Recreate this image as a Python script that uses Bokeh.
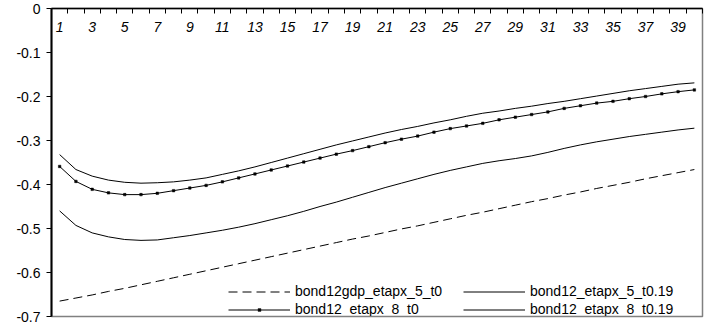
from bokeh.plotting import figure
from bokeh.models import FixedTicker, Legend, LegendItem
from bokeh.core.properties import value
from bokeh.embed import file_html
from bokeh.resources import INLINE

periods = list(range(1, 41))
x_tick_labels = [str(i) for i in range(1, 41, 2)]
y_ticks = [0, -0.1, -0.2, -0.3, -0.4, -0.5, -0.6, -0.7]
y_tick_labels = ["0", "-0.1", "-0.2", "-0.3", "-0.4", "-0.5", "-0.6", "-0.7"]

bond12gdp_etapx_5_t0 = [
    -0.665, -0.658, -0.651, -0.643, -0.636, -0.628, -0.620, -0.612, -0.604, -0.596,
    -0.588, -0.580, -0.572, -0.564, -0.556, -0.548, -0.540, -0.532, -0.524, -0.517,
    -0.509, -0.501, -0.494, -0.486, -0.478, -0.470, -0.463, -0.455, -0.447, -0.439,
    -0.432, -0.424, -0.417, -0.409, -0.402, -0.395, -0.387, -0.380, -0.373, -0.366]

bond12_etapx_5_t019 = [
    -0.332, -0.366, -0.381, -0.390, -0.395, -0.397, -0.396, -0.394, -0.390, -0.385,
    -0.377, -0.369, -0.360, -0.350, -0.340, -0.330, -0.320, -0.310, -0.301, -0.292,
    -0.283, -0.275, -0.268, -0.260, -0.253, -0.245, -0.238, -0.233, -0.227, -0.222,
    -0.216, -0.211, -0.205, -0.199, -0.193, -0.187, -0.182, -0.177, -0.172, -0.169]

bond12_etapx_8_t0 = [
    -0.359, -0.393, -0.411, -0.419, -0.423, -0.423, -0.420, -0.414, -0.408, -0.402,
    -0.394, -0.385, -0.376, -0.367, -0.358, -0.349, -0.340, -0.331, -0.323, -0.314,
    -0.305, -0.297, -0.290, -0.281, -0.273, -0.267, -0.261, -0.253, -0.247, -0.241,
    -0.235, -0.227, -0.221, -0.215, -0.211, -0.205, -0.200, -0.194, -0.189, -0.185]

bond12_etapx_8_t019 = [
    -0.460, -0.493, -0.510, -0.519, -0.525, -0.527, -0.526, -0.521, -0.516, -0.510,
    -0.504, -0.497, -0.489, -0.480, -0.471, -0.461, -0.450, -0.440, -0.429, -0.418,
    -0.407, -0.397, -0.387, -0.377, -0.368, -0.360, -0.352, -0.346, -0.341, -0.335,
    -0.327, -0.318, -0.310, -0.303, -0.297, -0.291, -0.286, -0.281, -0.276, -0.272]

FONT = "Liberation Sans"

p = figure(width=704, height=325, x_range=(0.5, 40.5), y_range=(-0.7, 0),
           x_axis_location="above", output_backend="svg", toolbar_location=None,
           min_border_left=51, min_border_right=2, min_border_top=8, min_border_bottom=9)
p.grid.visible = False
p.outline_line_color = "#808080"
p.outline_line_width = 1.5
p.background_fill_color = "white"
p.border_fill_color = "white"

# top axis: ticks only, pointing inward, at category boundaries
xa = p.xaxis[0]
xa.ticker = FixedTicker(ticks=[i + 0.5 for i in range(0, 41)])
xa.major_tick_in = 5
xa.major_tick_out = 0
xa.minor_tick_line_color = None
xa.major_label_text_color = None
xa.major_label_standoff = 0
xa.axis_line_color = "black"
xa.axis_line_width = 1.5
xa.major_tick_line_color = "black"

ya = p.yaxis[0]
ya.ticker = FixedTicker(ticks=y_ticks)
ya.major_label_overrides = dict(zip(y_ticks, y_tick_labels))
ya.major_tick_in = 0
ya.major_tick_out = 5
ya.minor_tick_line_color = None
ya.major_label_text_font = FONT
ya.major_label_text_font_size = "14px"
ya.major_label_text_color = "black"
ya.major_label_standoff = 6
ya.axis_line_color = "black"
ya.axis_line_width = 2

# x tick labels drawn inside the frame, below the top axis
label_x = [int(s) for s in x_tick_labels]
p.text(x=label_x, y=[0] * len(label_x), text=x_tick_labels,
       text_font=value(FONT), text_font_style="italic", text_font_size="14px",
       text_align="center", text_baseline="top", y_offset=13, text_color="black")

r_gdp = p.line(periods, bond12gdp_etapx_5_t0, line_color="black", line_width=1,
               line_dash="9 5")
r_a = p.line(periods, bond12_etapx_5_t019, line_color="black", line_width=1)
r_b = p.line(periods, bond12_etapx_8_t0, line_color="black", line_width=1)
r_bp = p.scatter(periods, bond12_etapx_8_t0, marker="square", size=2.5,
                 fill_color="black", line_color="black", line_width=0.5)
r_c = p.line(periods, bond12_etapx_8_t019, line_color="black", line_width=1)

legend = Legend(items=[
    LegendItem(label="bond12gdp_etapx_5_t0", renderers=[r_gdp]),
    LegendItem(label="bond12_etapx_8_t0", renderers=[r_b, r_bp]),
    LegendItem(label="bond12_etapx_5_t0.19", renderers=[r_a]),
    LegendItem(label="bond12_etapx_8_t0.19", renderers=[r_c]),
], location=(177, -2), ncols=2, orientation="vertical",
    glyph_width=62, glyph_height=7, label_height=18, label_width=168,
    label_standoff=5, spacing=0, padding=0, margin=0,
    label_text_font=FONT, label_text_font_size="14px", label_text_color="black",
    background_fill_alpha=0, border_line_alpha=0)
p.add_layout(legend)

open("out.html", "w").write(file_html(p, INLINE))
